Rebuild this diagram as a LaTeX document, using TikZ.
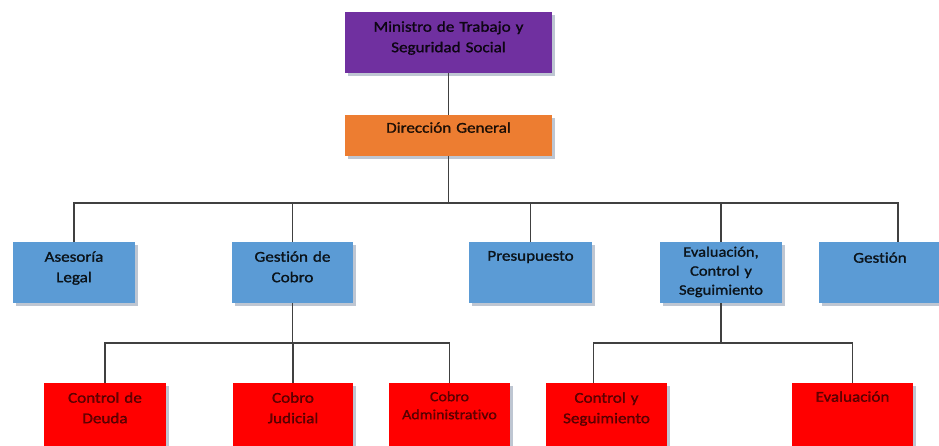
\documentclass[tikz,border=0pt]{standalone}
\usepackage{fontspec}
\setmainfont{Carlito}[FakeStretch=1.14, FakeBold=1.2, Ligatures=NoCommon]
\usetikzlibrary{positioning,calc}
\definecolor{ministrypurple}{RGB}{112,48,160}
\definecolor{directorange}{RGB}{237,125,49}
\definecolor{unitblue}{RGB}{91,155,213}
\definecolor{subred}{RGB}{255,0,0}
\definecolor{shadowgray}{RGB}{190,198,210}
\definecolor{linegray}{RGB}{64,64,64}

\begin{document}
\begin{tikzpicture}[x=1pt, y=-1pt]
        \tikzstyle{unit}=[anchor=north, inner sep=0pt, align=center, text=black, text opacity=0.85,
            font=\fontsize{15}{20.5}\selectfont,
            preaction={fill=shadowgray, transform canvas={shift={(3pt,-3pt)}}}]
        \tikzstyle{topunit}=[unit, text width=207pt]
        \tikzstyle{area}=[unit, fill=unitblue, text height=19.5pt, text depth=41.5pt]
        \tikzstyle{office}=[unit, fill=subred, text opacity=0.6, text height=19.5pt, text depth=50.5pt]
        \tikzstyle{conn}=[draw=linegray, line width=1.2pt]

        \useasboundingbox (0,0) rectangle (939,445);
        \clip (0,0) rectangle (939,445);

        % Ministry and general direction
        \node[topunit, fill=ministrypurple, text height=19.5pt, text depth=41.5pt] (minis) at (448.5,12) {Ministro de Trabajo y\\Seguridad Social};
        \node[topunit, fill=directorange, text height=17.5pt, text depth=23.5pt] (dir) at (448.5,115) {Dirección General};

        % Areas
        \node[area, text width=122pt] (ase) at (74,242) {Asesoría\\Legal};
        \node[area, text width=121pt] (gco) at (292.5,242) {Gestión de\\Cobro};
        \node[area, text width=123pt, text height=18.5pt, text depth=42.5pt] (pre) at (530.5,242) {Presupuesto};
        \node[area, text width=122pt, text height=14.5pt, text depth=46.5pt,
              font=\fontsize{14.5}{19}\selectfont] (eva) at (721,242) {Evaluación,\\Control y\\Seguimiento};
        \node[area, text width=122pt, text height=20.5pt, text depth=40.5pt] (ges) at (880,242) {Gestión};

        % Offices
        \node[office, text width=122pt] (cde) at (105,383) {Control de\\Deuda};
        \node[office, text width=120pt] (cju) at (293,383) {Cobro\\Judicial};
        \node[office, text width=121pt, text height=18pt, text depth=52pt,
              font=\fontsize{14}{18}\selectfont] (cad) at (449.5,383) {Cobro\\Administrativo};
        \node[office, text width=121pt] (cys) at (606.5,383) {Control y\\Seguimiento};
        \node[office, text width=121pt, text height=18.5pt, text depth=51.5pt] (evl) at (852.5,383) {Evaluación};

        % Bus lines
        \coordinate (topbus) at (448.5,203);
        \coordinate (lowbus) at (0,343);

        \draw[conn] (minis.south) -- (dir.north);
        \draw[conn] (dir.south) -- (topbus);
        \draw[conn] (ase.north) |- (topbus) -| ([xshift=18pt]ges.north);
        \foreach \u in {gco,pre,eva}
            \draw[conn] (\u.north) -- (\u.north |- topbus);

        \draw[conn] (gco.south) -- (gco.south |- lowbus);
        \draw[conn] (cde.north) |- (gco.south |- lowbus) -| (cad.north);
        \draw[conn] (cju.north) -- (cju.north |- lowbus);
        \draw[conn] (eva.south) -- (eva.south |- lowbus);
        \draw[conn] ([xshift=-13pt]cys.north) |- (eva.south |- lowbus) -| (evl.north);
\end{tikzpicture}
\end{document}
